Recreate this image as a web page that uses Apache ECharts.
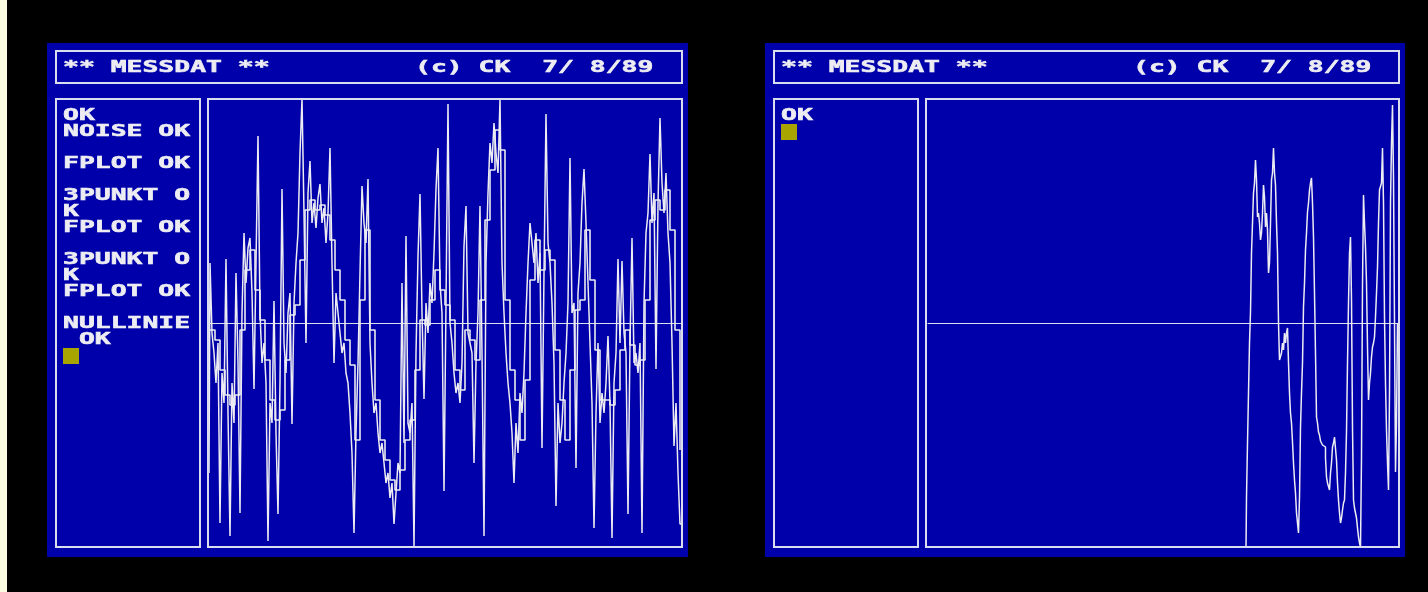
<!DOCTYPE html>
<html>
<head>
<meta charset="utf-8">
<script src="https://cdn.jsdelivr.net/npm/echarts@6/dist/echarts.min.js"></script>
<style>html,body{margin:0;padding:0;background:#000;}#c{width:1428px;height:592px;}</style>
</head>
<body>
<div id="c"></div>
<script>
// Left screen: raw noisy measurement trace, one sample every 2 px (units ~ px from zero line)
const leftValues = [
-150,60,-10,-30,-60,-20,-200,-50,-80,64,
-90,-213,-60,-100,50,-40,-190,10,90,40,
75,85,30,-66,60,187,10,-40,-20,-60,
-218,-80,-100,22,-110,-191,-60,134,-20,-50,
10,30,-101,20,60,90,170,224,110,-20,
130,162,100,120,95,125,139,100,115,80,
110,175,60,-40,30,10,-10,-30,-20,-50,
-60,-90,-130,-210,-110,-40,50,137,100,80,
144,-20,-60,-90,-80,-110,-130,-120,-140,-160,
-150,-175,-160,-201,-170,-140,-150,40,-120,87,
-100,-110,-80,-223,-30,67,129,10,-76,20,
-10,40,20,70,134,175,40,10,-168,20,
219,0,-20,-50,-70,-60,-80,-40,77,117,
-10,-20,-30,-140,-40,10,117,-30,-213,60,
130,180,160,200,170,150,224,60,10,-30,
-60,-80,-110,-160,-100,-130,-70,-90,-50,10,
60,100,80,60,90,40,70,-125,50,209,
80,60,20,-40,-183,-80,-120,-100,-60,-30,
20,165,10,20,-145,30,60,120,154,100,
40,-20,-80,-205,-90,-20,-100,-70,-90,-60,
-13,-80,-215,-60,-30,64,-20,62,-10,-30,
-191,-20,85,-40,-30,-50,-20,-210,20,90,
110,169,100,130,-46,120,205,140,110,150,
90,60,-20,-123,-80,-150,-201
];
const leftStep = 2;

// Left screen: filtered (FPLOT) trace, one sample every 5 px, starting 1 px in
const leftFiltStart = 1;
const leftFiltStep = 5;
const leftFiltered = [
-7,-17,-47,-72,-82,-72,-7,53,73,33,
3,-37,-77,-97,-87,-37,8,18,63,113,
123,113,118,108,83,53,23,-17,-42,-117,
23,93,-7,-77,-117,-137,-157,-167,-147,-117,
-97,-47,3,-2,23,53,33,18,3,-47,
-67,-7,-17,-37,23,103,153,193,173,23,
-47,-77,-117,-57,43,83,53,73,63,-27,
-77,-117,-47,13,23,93,43,-27,-77,-77,
-82,-67,-27,-7,-22,-42,-37,23,103,123,
113,133,93,-7,-127
];

// Right screen: trace starts late, one sample per px
const rightStart = 318;
const rightValues = [
-224,-174,-120,-70,-20,11,70,100,130,140,
163,143,106,110,100,83,90,110,138,126,
96,110,93,50,60,100,143,150,175,150,
138,100,70,0,-37,-37,-30,-20,-27,-10,
-20,-10,-5,-40,-70,-90,-100,-119,-140,-157,
-170,-190,-200,-210,-174,-104,-70,-40,16,40,
73,90,111,120,133,140,145,120,86,30,
-30,-94,-100,-109,-112,-118,-120,-122,-124,-124,
-135,-154,-160,-162,-167,-150,-140,-124,-120,-114,
-114,-137,-160,-177,-190,-200,-195,-187,-180,-177,
-150,-109,-40,20,70,86,23,-105,-177,-185,
-190,-195,-205,-214,-220,-224,-134,38,128,100,
76,40,-24,-77,-60,-50,-34,-24,-20,-14,
6,30,56,100,133,133,140,175,120,6,
-60,-107,-140,-167,-70,120,180,218,145,0,
-149,-100,0
];

const titleLeft = "** MESSDAT **";
const titleRight = "(c) CK  7/ 8/89";
const leftPanelLines = [
  [0, "OK"], [1, "NOISE OK"], [3, "FPLOT OK"], [5, "3PUNKT O"], [6, "K"],
  [7, "FPLOT OK"], [9, "3PUNKT O"], [10, "K"], [11, "FPLOT OK"], [13, "NULLINIE"], [14, " OK"]
];
const leftCursorRow = 15;
const rightPanelLines = [[0, "OK"]];
const rightCursorRow = 1;

const BLUE = '#0000aa', LINE = '#dcdcf0', TXT = '#ececf2', CUR = '#a8a400';
const FONT = 'bold 16.5px "DejaVu Sans Mono"';

function txt(x, y, s) {
  return {type:'text', x:x, y:y, scaleX:1.6, z:10, silent:true,
    style:{text:s, fill:TXT, stroke:TXT, lineWidth:0.6, font:FONT, textAlign:'left',
           verticalAlign:'middle', textVerticalAlign:'middle'}};
}
function box(x, y, w, h) {
  return {type:'rect', z:8, silent:true, shape:{x:x, y:y, width:w, height:h},
    style:{fill:null, stroke:LINE, lineWidth:2}};
}
function screen(ox, wAdj, panelLines, cursorRow) {
  const els = [];
  els.push({type:'rect', z:-10, silent:true, shape:{x:ox, y:43, width:641 + wAdj, height:514}, style:{fill:BLUE}});
  els.push(box(ox + 9, 51, 626 + wAdj, 32));
  els.push(box(ox + 9, 99, 144, 448));
  els.push(box(ox + 161, 99, 474 + wAdj, 448));
  const tx = ox + 16;
  els.push(txt(tx, 68, titleLeft));
  els.push(txt(tx + 22 * 16, 68, titleRight));
  panelLines.forEach(([r, s]) => els.push(txt(tx, 116 + 16 * r, s)));
  els.push({type:'rect', z:9, silent:true, shape:{x:tx, y:108 + 16 * cursorRow, width:16, height:16}, style:{fill:CUR}});
  return els;
}

const graphics = [
  {type:'rect', z:-20, silent:true, shape:{x:0, y:0, width:7, height:592}, style:{fill:'#fbfbe2'}}
].concat(screen(47, 0, leftPanelLines, leftCursorRow))
 .concat(screen(765, -1, rightPanelLines, rightCursorRow));

const chart = echarts.init(document.getElementById('c'));
const axX = (gi, max) => ({type:'value', gridIndex:gi, min:0, max:max, z:5,
  axisLabel:{show:false}, axisTick:{show:false}, splitLine:{show:false},
  axisLine:{show:true, onZero:true, lineStyle:{color:LINE, width:1}}});
const axY = (gi) => ({type:'value', gridIndex:gi, min:-224, max:224, show:false,
  splitLine:{show:false}});

chart.setOption({
  backgroundColor:'#000000',
  animation:false,
  graphic: graphics,
  grid:[
    {left:209, top:99, width:472, height:448},
    {left:928, top:99, width:470, height:448}
  ],
  xAxis:[axX(0, 472), axX(1, 470)],
  yAxis:[axY(0), axY(1)],
  series:[
    {type:'line', xAxisIndex:0, yAxisIndex:0, step:'middle', showSymbol:false, z:6,
     lineStyle:{color:TXT, width:1.5},
     data: leftValues.map((v, i) => [i * leftStep, v])},
    {type:'line', xAxisIndex:0, yAxisIndex:0, step:'end', showSymbol:false, z:6,
     lineStyle:{color:TXT, width:1.6},
     data: leftFiltered.map((v, i) => [leftFiltStart + i * leftFiltStep, v])},
    {type:'line', xAxisIndex:1, yAxisIndex:1, step:'middle', showSymbol:false, z:6,
     lineStyle:{color:TXT, width:1.5},
     data: rightValues.map((v, i) => [rightStart + i, v])}
  ]
});
</script>
</body>
</html>
